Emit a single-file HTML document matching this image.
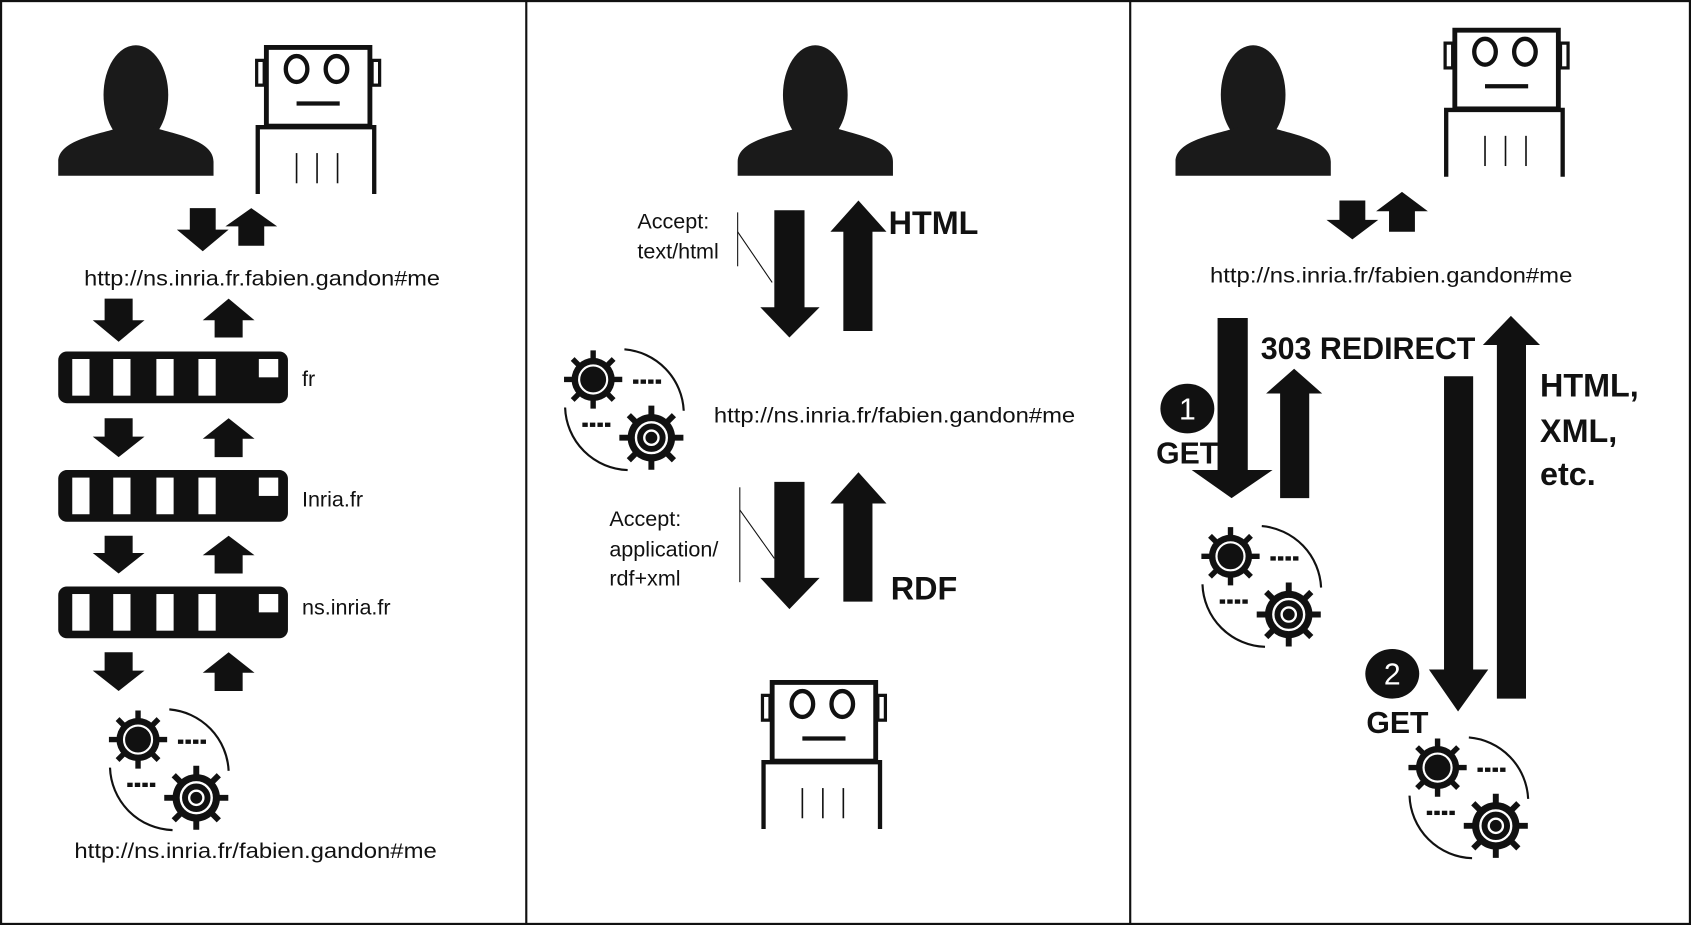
<!DOCTYPE html>
<html><head><meta charset="utf-8"><style>
html,body{margin:0;padding:0;background:#fff}
svg{display:block}
text{font-family:"Liberation Sans",sans-serif;fill:#111}
.b{font-weight:bold}
</style></head><body>
<svg width="1691" height="925" viewBox="0 0 1568 858" preserveAspectRatio="none" xmlns="http://www.w3.org/2000/svg">
<defs>
<g id="person">
<ellipse cx="72" cy="48" rx="30" ry="46" fill="#1a1a1a"/>
<path d="M0 123 V110 C0 90 36 85 58 78 V70 H88 V78 C110 85 144 90 144 110 V123 Z" fill="#1a1a1a"/>
</g>
<g id="robot" fill="none" stroke="#111">
<rect x="10" y="2" width="96" height="73" stroke-width="4.5"/>
<rect x="1" y="14" width="7" height="23" stroke-width="3"/>
<rect x="108" y="14" width="7" height="23" stroke-width="3"/>
<ellipse cx="38" cy="22" rx="10" ry="12" stroke-width="4"/>
<ellipse cx="75" cy="22" rx="10" ry="12" stroke-width="4"/>
<line x1="38" y1="54" x2="78" y2="54" stroke-width="4"/>
<path d="M2 138 V76 H110 V138" stroke-width="4"/>
<line x1="38" y1="100" x2="38" y2="128" stroke-width="1.5"/>
<line x1="57" y1="100" x2="57" y2="128" stroke-width="1.5"/>
<line x1="76" y1="100" x2="76" y2="128" stroke-width="1.5"/>
</g>
<g id="gearbase">
<g stroke="#111" stroke-width="5" stroke-linecap="butt">
<line x1="0" y1="-27" x2="0" y2="27"/><line x1="-27" y1="0" x2="27" y2="0"/>
<line x1="-19" y1="-19" x2="19" y2="19"/><line x1="-19" y1="19" x2="19" y2="-19"/>
</g>
<circle r="20" fill="#111"/>
</g>
<g id="cluster">
<g transform="translate(28,31)"><use href="#gearbase"/><circle r="13" fill="none" stroke="#fff" stroke-width="2"/></g>
<g transform="translate(82,85) scale(1.1)"><use href="#gearbase"/><circle r="13" fill="none" stroke="#fff" stroke-width="2"/><circle r="6" fill="none" stroke="#fff" stroke-width="2"/></g>
<g fill="#111"><rect x="65" y="31" width="5" height="4"/><rect x="72" y="31" width="5" height="4"/><rect x="79" y="31" width="5" height="4"/><rect x="86" y="31" width="5" height="4"/>
<rect x="18" y="71" width="5" height="4"/><rect x="25" y="71" width="5" height="4"/><rect x="32" y="71" width="5" height="4"/><rect x="39" y="71" width="5" height="4"/></g>
<path d="M57 3 A60 60 0 0 1 112 60" fill="none" stroke="#111" stroke-width="2"/>
<path d="M2 57 A60 60 0 0 0 60 115" fill="none" stroke="#111" stroke-width="2"/>
</g>
<g id="server">
<rect x="0" y="0" width="213" height="48" rx="8" fill="#111"/>
<g fill="#fff"><rect x="13" y="7" width="16" height="34"/><rect x="51" y="7" width="16" height="34"/><rect x="91" y="7" width="16" height="34"/><rect x="130" y="7" width="16" height="34"/><rect x="186" y="7" width="18" height="17"/></g>
</g>
</defs>

<rect x="1" y="1" width="1566" height="856" fill="none" stroke="#111" stroke-width="2"/>
<line x1="488" y1="0" x2="488" y2="858" stroke="#111" stroke-width="2"/>
<line x1="1048" y1="0" x2="1048" y2="858" stroke="#111" stroke-width="2"/>

<!-- LEFT PANEL -->
<use href="#person" x="54" y="40"/>
<use href="#robot" x="237" y="42"/>
<g fill="#111">
<polygon points="176,193 200,193 200,213 212,213 188,233 164,213 176,213"/>
<polygon points="221,228 245,228 245,210 257,210 233,193 209,210 221,210"/>
</g>
<text x="78" y="265" font-size="20" textLength="330" lengthAdjust="spacingAndGlyphs">http://ns.inria.fr.fabien.gandon#me</text>
<g fill="#111">
<polygon points="97,277 123,277 123,297 134,297 110,317 86,297 97,297"/>
<polygon points="199,313 225,313 225,297 236,297 212,277 188,297 199,297"/>
<polygon points="97,388 123,388 123,405 134,405 110,424 86,405 97,405"/>
<polygon points="199,424 225,424 225,407 236,407 212,388 188,407 199,407"/>
<polygon points="97,497 123,497 123,513 134,513 110,532 86,513 97,513"/>
<polygon points="199,532 225,532 225,515 236,515 212,497 188,515 199,515"/>
<polygon points="97,605 123,605 123,622 134,622 110,641 86,622 97,622"/>
<polygon points="199,641 225,641 225,624 236,624 212,605 188,624 199,624"/>
</g>
<use href="#server" x="54" y="326"/>
<use href="#server" x="54" y="436"/>
<use href="#server" x="54" y="544"/>
<text x="280" y="358" font-size="20">fr</text>
<text x="280" y="470" font-size="20">Inria.fr</text>
<text x="280" y="570" font-size="20">ns.inria.fr</text>
<use href="#cluster" x="100" y="655"/>
<text x="69" y="796" font-size="20" textLength="336" lengthAdjust="spacingAndGlyphs">http://ns.inria.fr/fabien.gandon#me</text>

<!-- MIDDLE PANEL -->
<use href="#person" x="684" y="40"/>
<g fill="#111">
<polygon points="718,195 746,195 746,285 760,285 732,313 705,285 718,285"/>
<polygon points="782,307 809,307 809,215 822,215 796,186 770,215 782,215"/>
<polygon points="718,447 746,447 746,536 760,536 732,565 705,536 718,536"/>
<polygon points="782,558 809,558 809,467 822,467 796,438 770,467 782,467"/>
</g>
<g stroke="#111" stroke-width="1">
<line x1="684" y1="197" x2="684" y2="247"/><line x1="684" y1="215" x2="716" y2="262"/>
<line x1="686" y1="452" x2="686" y2="540"/><line x1="686" y1="473" x2="718" y2="518"/>
</g>
<text x="591" y="212" font-size="20">Accept:</text>
<text x="591" y="240" font-size="20">text/html</text>
<text x="565" y="488" font-size="20">Accept:</text>
<text x="565" y="516" font-size="20">application/</text>
<text x="565" y="543" font-size="20">rdf+xml</text>
<text x="824" y="217" font-size="30" class="b">HTML</text>
<text x="826" y="556" font-size="30" class="b">RDF</text>
<use href="#cluster" x="522" y="321"/>
<text x="662" y="392" font-size="20" textLength="335" lengthAdjust="spacingAndGlyphs">http://ns.inria.fr/fabien.gandon#me</text>
<use href="#robot" x="706" y="631"/>

<!-- RIGHT PANEL -->
<use href="#person" x="1090" y="40"/>
<use href="#robot" x="1339" y="26"/>
<g fill="#111">
<polygon points="1242,186 1266,186 1266,204 1278,204 1254,222 1230,204 1242,204"/>
<polygon points="1288,215 1312,215 1312,196 1324,196 1300,178 1276,196 1288,196"/>
<polygon points="1129,295 1157,295 1157,436 1180,436 1142,462 1105,436 1129,436"/>
<polygon points="1187,462 1214,462 1214,365 1226,365 1200,342 1174,365 1187,365"/>
<polygon points="1339,349 1366,349 1366,621 1380,621 1352,660 1325,621 1339,621"/>
<polygon points="1388,648 1415,648 1415,320 1428,320 1401,293 1375,320 1388,320"/>
</g>
<text x="1122" y="262" font-size="20" textLength="336" lengthAdjust="spacingAndGlyphs">http://ns.inria.fr/fabien.gandon#me</text>
<text x="1169" y="333" font-size="29" class="b" textLength="199" lengthAdjust="spacingAndGlyphs">303 REDIRECT</text>
<text x="1428" y="368" font-size="30" class="b">HTML,</text>
<text x="1428" y="410" font-size="30" class="b">XML,</text>
<text x="1428" y="450" font-size="30" class="b">etc.</text>
<ellipse cx="1101" cy="379" rx="25" ry="23" fill="#111"/>
<text x="1101" y="389" font-size="28" text-anchor="middle" style="fill:#fff">1</text>
<text x="1072" y="430" font-size="28" class="b">GET</text>
<ellipse cx="1291" cy="625" rx="25" ry="23" fill="#111"/>
<text x="1291" y="635" font-size="28" text-anchor="middle" style="fill:#fff">2</text>
<text x="1267" y="680" font-size="28" class="b">GET</text>
<use href="#cluster" x="1113" y="485"/>
<use href="#cluster" x="1305" y="681"/>
</svg>
</body></html>
